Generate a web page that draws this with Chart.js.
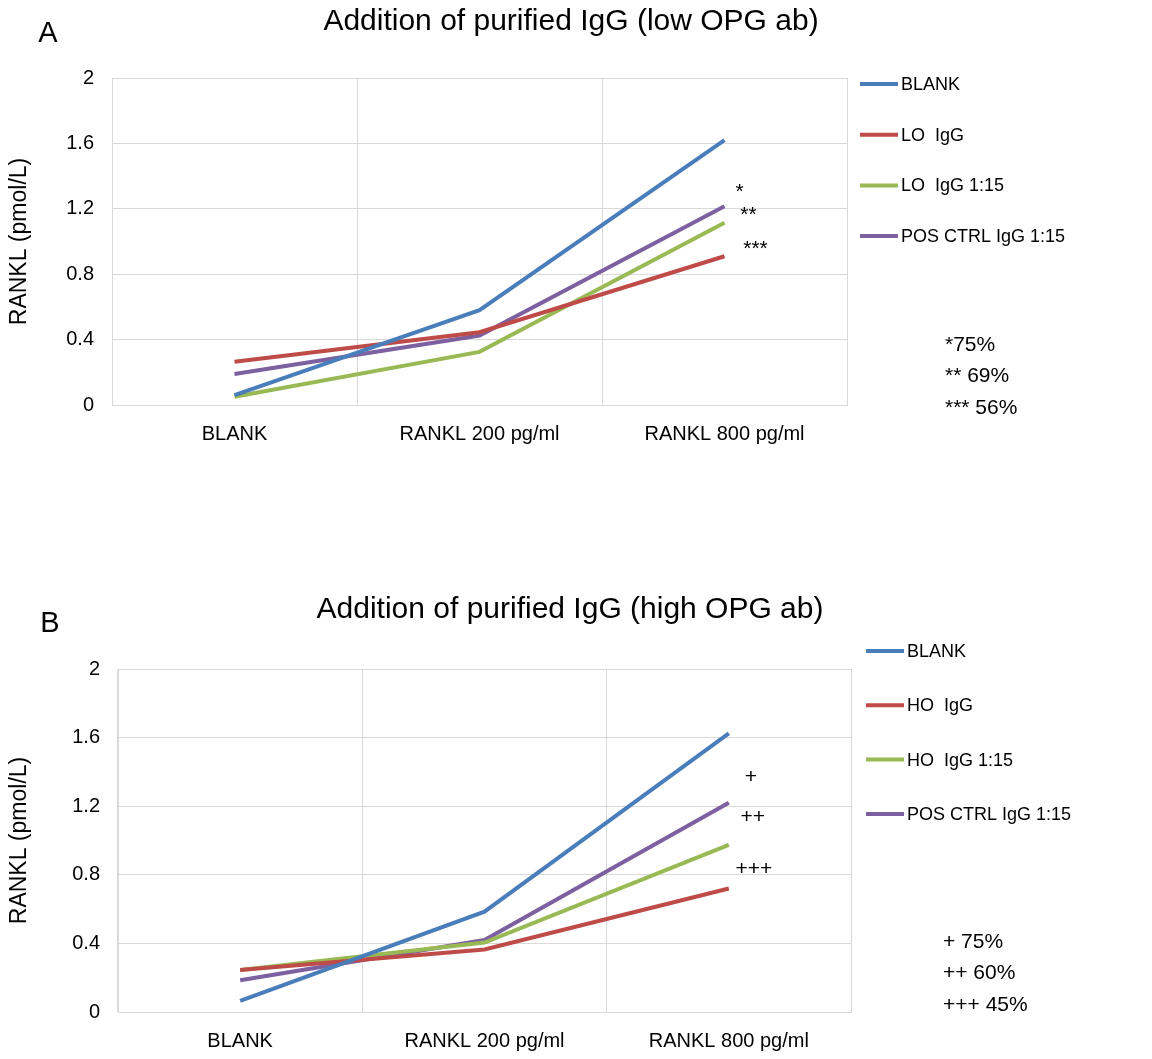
<!DOCTYPE html>
<html>
<head>
<meta charset="utf-8">
<script src="https://cdn.jsdelivr.net/npm/chart.js@4"></script>
<style>
  body { margin: 0; background: #fff; width: 1152px; height: 1059px; position: relative; overflow: hidden; }
  .panel { position: absolute; left: 0; width: 1152px; }
  #panelA { top: 0; height: 480px; }
  #panelB { top: 590px; height: 469px; }
</style>
</head>
<body>
<div class="panel" id="panelA"><canvas id="chartA"></canvas></div>
<div class="panel" id="panelB"><canvas id="chartB"></canvas></div>
<script>
// categories and values (RANKL, pmol/L)
var categories = ['BLANK', 'RANKL 200 pg/ml', 'RANKL 800 pg/ml'];

var namesA = ['BLANK', 'LO  IgG', 'LO  IgG 1:15', 'POS CTRL IgG 1:15'];
var blankA = [0.06, 0.58, 1.62];
var loIgG = [0.265, 0.445, 0.91];
var loIgG115 = [0.05, 0.325, 1.115];
var posCtrlA = [0.19, 0.425, 1.215];
var notesA = ['*75%', '** 69%', '*** 56%'];

var namesB = ['BLANK', 'HO  IgG', 'HO  IgG 1:15', 'POS CTRL IgG 1:15'];
var blankB = [0.065, 0.585, 1.625];
var hoIgG = [0.245, 0.365, 0.72];
var hoIgG115 = [0.245, 0.405, 0.975];
var posCtrlB = [0.185, 0.42, 1.22];
var notesB = ['+ 75%', '++ 60%', '+++ 45%'];

var yMin = 0, yMax = 2, yStep = 0.4;

var colors = ['#4A7EBB', '#BE4B48', '#98B954', '#7D60A0'];
var FONT = '"Liberation Sans", Arial, sans-serif';

// title, legend, star marks and percent notes
var extras = {
    id: 'extras',
    afterDraw: function(chart, args, o) {
        var ctx = chart.ctx;
        var area = chart.chartArea;
        ctx.save();
        ctx.fillStyle = '#000';
        ctx.textBaseline = 'middle';

        ctx.textAlign = 'center';
        ctx.font = '30px ' + FONT;
        ctx.fillText(o.title, o.titleX, o.titleY);
        ctx.font = '29px ' + FONT;
        ctx.fillText(o.letter, o.letterX, o.letterY);

        // legend
        ctx.textAlign = 'left';
        ctx.font = '18px ' + FONT;
        chart.data.datasets.forEach(function(ds, i) {
            var y = area.top + o.legendTop + i * o.legendGap;
            ctx.strokeStyle = ds.borderColor;
            ctx.lineWidth = 4;
            ctx.beginPath();
            ctx.moveTo(o.legendX, y);
            ctx.lineTo(o.legendX + 38, y);
            ctx.stroke();
            ctx.fillText(ds.label, o.legendX + 41, y + 1);
        });

        // significance marks next to the last points
        var xs = chart.scales.x, ys = chart.scales.y;
        ctx.textAlign = 'center';
        ctx.font = '21px ' + FONT;
        o.marks.forEach(function(m) {
            ctx.fillText(m.text, xs.getPixelForValue(categories.length - 1) + m.dx, ys.getPixelForValue(m.v));
        });

        ctx.textAlign = 'left';
        ctx.font = '21px ' + FONT;
        o.notes.forEach(function(t, i) {
            ctx.fillText(t, o.noteX, area.top + o.noteY + i * o.noteGap);
        });
        ctx.restore();
    }
};

function makeChart(id, names, series, extra, pad, xHeight, yWidth) {
    var datasets = series.map(function(vals, i) {
        return {
            label: names[i],
            data: vals,
            borderColor: colors[i],
            backgroundColor: colors[i],
            borderWidth: 4,
            pointRadius: 0,
            tension: 0
        };
    });
    return new Chart(document.getElementById(id), {
        type: 'line',
        data: { labels: categories, datasets: datasets },
        plugins: [extras],
        options: {
            responsive: true,
            maintainAspectRatio: false,
            animation: false,
            layout: { padding: pad },
            plugins: {
                legend: { display: false },
                tooltip: { enabled: false },
                extras: extra
            },
            scales: {
                x: {
                    offset: true,
                    grid: { offset: true, color: '#d9d9d9', drawTicks: false },
                    border: { color: '#d9d9d9' },
                    ticks: { color: '#000', padding: 17, font: { family: FONT, size: 20 }, maxRotation: 0 },
                    afterFit: function(s) { s.height = xHeight; }
                },
                y: {
                    min: yMin,
                    max: yMax,
                    grid: { color: '#d9d9d9', drawTicks: false },
                    border: { color: '#d9d9d9' },
                    ticks: {
                        stepSize: yStep, color: '#000', padding: 18, font: { family: FONT, size: 20 },
                        callback: function(v) { return String(+v.toFixed(1)); }
                    },
                    title: { display: true, text: 'RANKL (pmol/L)', color: '#000', font: { family: FONT, size: 23 }, padding: { top: 6, bottom: 0 } },
                    afterFit: function(s) { s.width = yWidth; }
                }
            }
        }
    });
}

makeChart('chartA', namesA, [blankA, loIgG, loIgG115, posCtrlA], {
    title: 'Addition of purified IgG (low OPG ab)', titleX: 571, titleY: 22,
    letter: 'A', letterX: 48, letterY: 34,
    legendX: 860, legendTop: 6, legendGap: 50.7,
    marks: [
        { text: '*', dx: 15, v: 1.30 },
        { text: '**', dx: 24, v: 1.16 },
        { text: '***', dx: 31, v: 0.955 }
    ],
    notes: notesA, noteX: 945, noteY: 267, noteGap: 31.5
}, { top: 78, right: 305, bottom: 25, left: 0 }, 50, 112);

makeChart('chartB', namesB, [blankB, hoIgG, hoIgG115, posCtrlB], {
    title: 'Addition of purified IgG (high OPG ab)', titleX: 570, titleY: 20,
    letter: 'B', letterX: 50, letterY: 34,
    legendX: 866, legendTop: -18, legendGap: 54.3,
    marks: [
        { text: '+', dx: 22, v: 1.367 },
        { text: '++', dx: 24, v: 1.133 },
        { text: '+++', dx: 25, v: 0.835 }
    ],
    notes: notesB, noteX: 943, noteY: 273, noteGap: 31.5
}, { top: 79, right: 301, bottom: 7, left: 0 }, 40, 118);
</script>
</body>
</html>
